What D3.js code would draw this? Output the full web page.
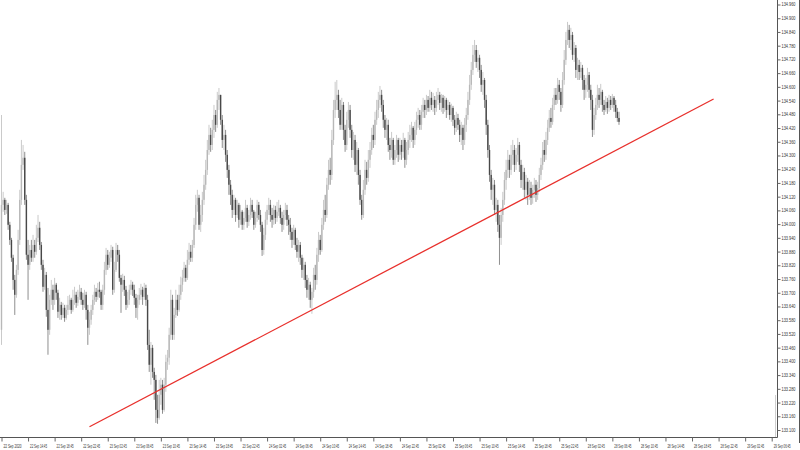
<!DOCTYPE html>
<html><head><meta charset="utf-8">
<script src="https://cdn.jsdelivr.net/npm/d3@7"></script>
<style>body{margin:0;background:#fff}svg{display:block}</style>
</head><body>
<script>
// M15 candles, 22 Sep 2020 10:45 onward (open of each bar = previous close)
const firstOpen = 133.538;
const closes = [
134.084,134.106,134.062,134.084,133.997,133.931,133.853,133.756,133.691,133.800,
133.931,134.106,134.259,134.290,134.106,133.866,133.822,133.887,133.853,133.909,
133.879,133.940,133.984,133.909,133.822,133.726,133.778,133.625,133.538,133.669,
133.713,133.669,133.735,133.700,133.617,133.647,133.603,133.634,133.590,133.625,
133.647,133.669,133.625,133.669,133.691,133.656,133.682,133.704,133.669,133.647,
133.691,133.625,133.547,133.582,133.625,133.669,133.704,133.682,133.713,133.704,
133.647,133.713,133.800,133.866,133.822,133.853,133.887,133.713,133.800,133.887,
133.866,133.765,133.735,133.756,133.713,133.647,133.669,133.713,133.735,133.713,
133.678,133.634,133.669,133.691,133.713,133.682,133.721,133.669,133.472,133.385,
133.459,133.354,133.319,133.188,133.153,133.254,133.298,133.188,133.298,133.398,
133.416,133.516,133.669,133.516,133.603,133.669,133.625,133.691,133.735,133.765,
133.809,133.765,133.844,133.879,133.853,133.909,133.997,134.084,134.115,133.997,
134.040,134.106,134.172,134.237,134.324,134.390,134.346,134.412,134.477,134.434,
134.543,134.565,134.456,134.368,134.390,134.303,134.237,134.172,134.128,134.062,
134.106,134.040,134.084,134.019,134.054,133.997,134.027,134.071,134.010,134.040,
134.084,134.054,133.997,134.027,134.084,134.040,133.997,133.887,133.953,134.019,
134.062,134.084,134.040,134.019,134.062,134.027,134.054,134.071,134.027,133.997,
134.040,134.062,134.019,133.997,133.966,133.931,133.975,133.909,133.879,133.909,
133.853,133.800,133.822,133.756,133.713,133.735,133.669,133.704,133.778,133.756,
133.866,133.931,133.887,133.997,134.062,134.040,134.172,134.237,134.215,134.368,
134.499,134.543,134.565,134.499,134.434,134.521,134.412,134.346,134.456,134.499,
134.412,134.324,134.368,134.259,134.324,134.215,134.106,134.040,134.150,134.237,
134.202,134.281,134.324,134.390,134.368,134.456,134.499,134.543,134.565,134.521,
134.456,134.412,134.434,134.346,134.324,134.368,134.281,134.324,134.368,134.303,
134.346,134.316,134.368,134.281,134.324,134.368,134.390,134.421,134.368,134.412,
134.456,134.477,134.434,134.491,134.521,134.499,134.543,134.508,134.552,134.521,
134.543,134.508,134.543,134.565,134.530,134.552,134.508,134.543,134.499,134.521,
134.477,134.508,134.456,134.421,134.464,134.434,134.390,134.421,134.368,134.434,
134.477,134.543,134.609,134.674,134.740,134.761,134.709,134.727,134.674,134.609,
134.630,134.543,134.434,134.324,134.215,134.150,134.172,134.062,134.084,133.997,
133.940,134.040,134.106,134.193,134.237,134.281,134.237,134.303,134.324,134.259,
134.303,134.346,134.259,134.193,134.228,134.150,134.185,134.128,134.158,134.115,
134.150,134.172,134.128,134.158,134.215,134.259,134.324,134.303,134.368,134.421,
134.464,134.447,134.521,134.565,134.543,134.609,134.578,134.521,134.630,134.718,
134.805,134.849,134.805,134.827,134.740,134.770,134.674,134.696,134.665,134.683,
134.630,134.587,134.609,134.652,134.587,134.543,134.412,134.477,134.521,134.565,
134.543,134.578,134.521,134.499,134.534,134.508,134.543,134.521,134.552,134.521,
134.491,134.464,134.447
];
const highs = [
134.477,134.141,134.115,134.106,134.093,134.010,133.940,133.866,133.778,133.822,
133.975,134.150,134.368,134.346,134.316,134.128,133.931,133.909,133.931,133.953,
133.931,133.997,134.040,134.010,133.922,133.844,133.809,133.791,133.721,133.691,
133.756,133.735,133.765,133.743,133.713,133.678,133.660,133.656,133.647,133.647,
133.686,133.691,133.678,133.713,133.726,133.704,133.713,133.735,133.721,133.700,
133.713,133.704,133.647,133.617,133.647,133.691,133.735,133.721,133.743,133.748,
133.713,133.735,133.835,133.896,133.887,133.879,133.909,133.901,133.835,133.918,
133.909,133.887,133.778,133.783,133.774,133.730,133.704,133.735,133.756,133.748,
133.735,133.695,133.691,133.721,133.739,133.726,133.743,133.735,133.691,133.538,
133.485,133.472,133.372,133.341,133.254,133.319,133.328,133.319,133.328,133.429,
133.450,133.547,133.713,133.691,133.634,133.713,133.691,133.735,133.770,133.800,
133.835,133.822,133.887,133.918,133.909,133.931,134.027,134.128,134.150,134.128,
134.084,134.141,134.215,134.281,134.368,134.434,134.421,134.456,134.521,134.499,
134.578,134.595,134.565,134.477,134.434,134.412,134.324,134.259,134.193,134.150,
134.128,134.115,134.106,134.093,134.084,134.062,134.054,134.106,134.084,134.062,
134.115,134.106,134.062,134.054,134.106,134.097,134.062,134.010,133.984,134.054,
134.084,134.115,134.106,134.071,134.084,134.080,134.097,134.106,134.084,134.054,
134.062,134.093,134.084,134.040,134.027,133.984,133.997,133.984,133.940,133.931,
133.922,133.866,133.853,133.835,133.778,133.765,133.748,133.721,133.809,133.822,
133.896,133.966,133.953,134.027,134.106,134.128,134.202,134.281,134.290,134.412,
134.543,134.622,134.630,134.587,134.543,134.552,134.534,134.434,134.491,134.534,
134.521,134.434,134.403,134.390,134.359,134.333,134.237,134.128,134.193,134.281,
134.272,134.324,134.359,134.421,134.434,134.491,134.543,134.578,134.604,134.587,
134.543,134.477,134.464,134.456,134.377,134.403,134.377,134.346,134.390,134.377,
134.377,134.368,134.399,134.377,134.359,134.403,134.434,134.447,134.429,134.447,
134.491,134.508,134.499,134.521,134.552,134.543,134.565,134.560,134.587,134.578,
134.574,134.560,134.578,134.595,134.578,134.569,134.565,134.560,134.552,134.543,
134.534,134.526,134.517,134.477,134.491,134.482,134.456,134.447,134.434,134.464,
134.508,134.578,134.652,134.709,134.783,134.805,134.783,134.761,134.740,134.696,
134.665,134.639,134.565,134.456,134.346,134.237,134.202,134.193,134.115,134.106,
134.040,134.071,134.141,134.228,134.281,134.324,134.303,134.346,134.368,134.346,
134.333,134.377,134.359,134.281,134.259,134.246,134.215,134.202,134.193,134.185,
134.172,134.202,134.193,134.185,134.246,134.290,134.359,134.368,134.403,134.456,
134.499,134.508,134.552,134.595,134.595,134.639,134.630,134.595,134.665,134.761,
134.840,134.884,134.871,134.858,134.840,134.796,134.783,134.727,134.718,134.709,
134.696,134.652,134.639,134.683,134.665,134.609,134.565,134.508,134.552,134.609,
134.595,134.613,134.587,134.543,134.560,134.552,134.565,134.560,134.569,134.560,
134.543,134.508,134.491
];
const lows = [
133.472,134.054,134.040,134.045,133.975,133.909,133.835,133.713,133.603,133.678,
133.778,133.909,134.084,134.237,134.084,133.844,133.669,133.800,133.835,133.835,
133.853,133.866,133.922,133.887,133.800,133.704,133.713,133.595,133.429,133.516,
133.647,133.625,133.647,133.669,133.590,133.582,133.582,133.590,133.573,133.582,
133.603,133.625,133.608,133.617,133.647,133.634,133.643,133.669,133.647,133.625,
133.634,133.582,133.472,133.516,133.560,133.603,133.647,133.660,133.669,133.678,
133.625,133.625,133.691,133.778,133.800,133.809,133.835,133.691,133.700,133.791,
133.835,133.748,133.612,133.704,133.686,133.625,133.634,133.647,133.691,133.686,
133.647,133.590,133.582,133.647,133.669,133.647,133.669,133.643,133.450,133.354,
133.298,133.328,133.232,133.131,133.127,133.145,133.210,133.171,133.180,133.267,
133.363,133.385,133.494,133.494,133.494,133.590,133.599,133.617,133.669,133.704,
133.748,133.748,133.756,133.822,133.835,133.835,133.896,133.975,134.054,133.975,
133.966,134.010,134.084,134.150,134.215,134.303,134.316,134.324,134.377,134.403,
134.421,134.499,134.434,134.333,134.324,134.272,134.202,134.128,134.084,134.027,
134.040,134.010,134.027,133.984,133.997,133.975,133.975,134.010,133.984,133.992,
134.019,134.027,133.975,133.984,134.010,134.019,133.966,133.861,133.866,133.931,
133.997,134.040,134.010,133.984,133.997,134.001,134.010,134.036,134.001,133.966,
133.975,134.019,133.992,133.953,133.931,133.896,133.909,133.887,133.853,133.835,
133.822,133.765,133.756,133.721,133.678,133.669,133.634,133.608,133.678,133.713,
133.735,133.835,133.866,133.879,133.975,134.010,134.027,134.150,134.172,134.193,
134.346,134.464,134.499,134.464,134.412,134.412,134.368,134.316,134.324,134.421,
134.377,134.290,134.281,134.228,134.215,134.172,134.084,134.019,134.027,134.128,
134.172,134.185,134.246,134.303,134.333,134.346,134.434,134.464,134.508,134.491,
134.421,134.377,134.368,134.316,134.281,134.290,134.259,134.259,134.290,134.272,
134.281,134.281,134.290,134.246,134.259,134.303,134.333,134.359,134.333,134.346,
134.390,134.421,134.412,134.412,134.464,134.464,134.477,134.491,134.491,134.499,
134.491,134.477,134.491,134.521,134.499,134.491,134.482,134.491,134.464,134.477,
134.456,134.447,134.429,134.390,134.403,134.412,134.359,134.346,134.324,134.346,
134.403,134.456,134.521,134.587,134.652,134.709,134.683,134.665,134.639,134.578,
134.565,134.508,134.390,134.290,134.185,134.106,134.084,134.040,134.010,133.966,
133.822,133.909,134.010,134.084,134.150,134.202,134.202,134.215,134.259,134.228,
134.237,134.272,134.228,134.158,134.150,134.115,134.106,134.084,134.106,134.084,
134.089,134.115,134.097,134.106,134.141,134.193,134.237,134.272,134.281,134.346,
134.403,134.421,134.434,134.499,134.521,134.526,134.543,134.491,134.508,134.609,
134.696,134.783,134.770,134.761,134.718,134.709,134.639,134.630,134.630,134.639,
134.587,134.543,134.552,134.578,134.552,134.499,134.381,134.390,134.456,134.499,
134.508,134.521,134.491,134.477,134.491,134.482,134.491,134.499,134.508,134.491,
134.464,134.447,134.434
];
const priceTicks = [134.960,134.900,134.840,134.780,134.720,134.660,134.600,134.540,134.480,134.420,
134.360,134.300,134.240,134.180,134.120,134.060,134.000,133.940,133.880,133.820,133.760,133.700,
133.640,133.580,133.520,133.460,133.400,133.340,133.280,133.220,133.160,133.100];
const timeLabels = ["22 Sep 2020","22 Sep 14:45","22 Sep 18:45","22 Sep 22:45","23 Sep 02:45","23 Sep 06:45",
"23 Sep 10:45","23 Sep 14:45","23 Sep 18:45","23 Sep 22:45","24 Sep 02:45","24 Sep 06:45","24 Sep 10:45",
"24 Sep 14:45","24 Sep 18:45","24 Sep 22:45","25 Sep 02:45","25 Sep 06:45","25 Sep 10:45","25 Sep 14:45",
"25 Sep 18:45","25 Sep 22:45","28 Sep 02:45","28 Sep 06:45","28 Sep 10:45","28 Sep 14:45","28 Sep 18:45",
"28 Sep 22:45","29 Sep 02:45","29 Sep 06:45"];
const labelBars = [0,16,32,48,64,80,96,112,128,144,160,176,192,208,224,240,256,272,288,304,320,336,352,368,384,400,416,432,448,464];
// trend line anchor points: [bar index, price]
const trendLine = [[53,133.114],[429,134.547]];

const W=800,H=450;
const svg=d3.select("body").append("svg").attr("width",W).attr("height",H);
svg.append("rect").attr("width",W).attr("height",H).attr("fill","#fff");
const x=d3.scaleLinear().domain([0,464]).range([1.5,771.7]);
const y=d3.scaleLinear().domain([133.100,134.960]).range([430,4.5]);

const bars=closes.map((c,i)=>({i,o:i?closes[i-1]:firstOpen,c,h:highs[i],l:lows[i]}));
const upCol="#b8b8b8", dnCol="#484848";
const g=svg.append("g");
g.selectAll("line.w").data(bars).join("line").attr("class","w")
 .attr("x1",d=>x(d.i)).attr("x2",d=>x(d.i)).attr("y1",d=>y(d.h)).attr("y2",d=>y(d.l))
 .attr("stroke",d=>d.c>=d.o?upCol:"#6a6a6a").attr("stroke-width",0.75);
g.selectAll("rect.b").data(bars).join("rect").attr("class","b")
 .attr("x",d=>x(d.i)-0.7).attr("width",1.4)
 .attr("y",d=>Math.min(y(d.o),y(d.c)))
 .attr("height",d=>Math.max(0.7,Math.abs(y(d.o)-y(d.c))))
 .attr("fill",d=>d.c>=d.o?upCol:dnCol);

// trend line
svg.append("line").attr("x1",x(trendLine[0][0])).attr("y1",y(trendLine[0][1]))
 .attr("x2",x(trendLine[1][0])).attr("y2",y(trendLine[1][1]))
 .attr("stroke","#e8302c").attr("stroke-width",1.3);

// frame lines
svg.append("line").attr("x1",777.5).attr("x2",777.5).attr("y1",0).attr("y2",437.5).attr("stroke","#555").attr("stroke-width",1);
svg.append("line").attr("x1",0).attr("x2",777.5).attr("y1",437.5).attr("y2",437.5).attr("stroke","#555").attr("stroke-width",1);
svg.append("line").attr("x1",799.5).attr("x2",799.5).attr("y1",0).attr("y2",443).attr("stroke","#555").attr("stroke-width",1);
svg.append("line").attr("x1",775.5).attr("x2",775.5).attr("y1",395).attr("y2",437).attr("stroke","#cfcfcf").attr("stroke-width",1);

// price axis
const ya=svg.append("g").attr("transform","translate(777.5,0)")
 .call(d3.axisRight(y).tickValues(priceTicks).tickSize(3).tickSizeOuter(0).tickPadding(1).tickFormat(d3.format(".3f")));
ya.select(".domain").remove();
ya.selectAll(".tick line").attr("stroke","#666");
ya.selectAll("text").attr("font-family","Liberation Sans, Arial, sans-serif").attr("font-size",4.6)
 .attr("fill","#333").attr("textLength",14).attr("lengthAdjust","spacingAndGlyphs");

// time axis
const xa=svg.append("g").attr("transform","translate(0,437.5)")
 .call(d3.axisBottom(x).tickValues(labelBars).tickSize(4).tickSizeOuter(0).tickFormat((d,i)=>timeLabels[i]));
xa.select(".domain").remove();
xa.selectAll(".tick line").attr("stroke","#666");
xa.selectAll("text").attr("font-family","Liberation Sans, Arial, sans-serif").attr("font-size",4.6)
 .attr("fill","#333").attr("text-anchor","start").attr("dx",1.5).attr("y",7)
 .attr("textLength",d=>d===0?18:17).attr("lengthAdjust","spacingAndGlyphs");
</script>
</body></html>
